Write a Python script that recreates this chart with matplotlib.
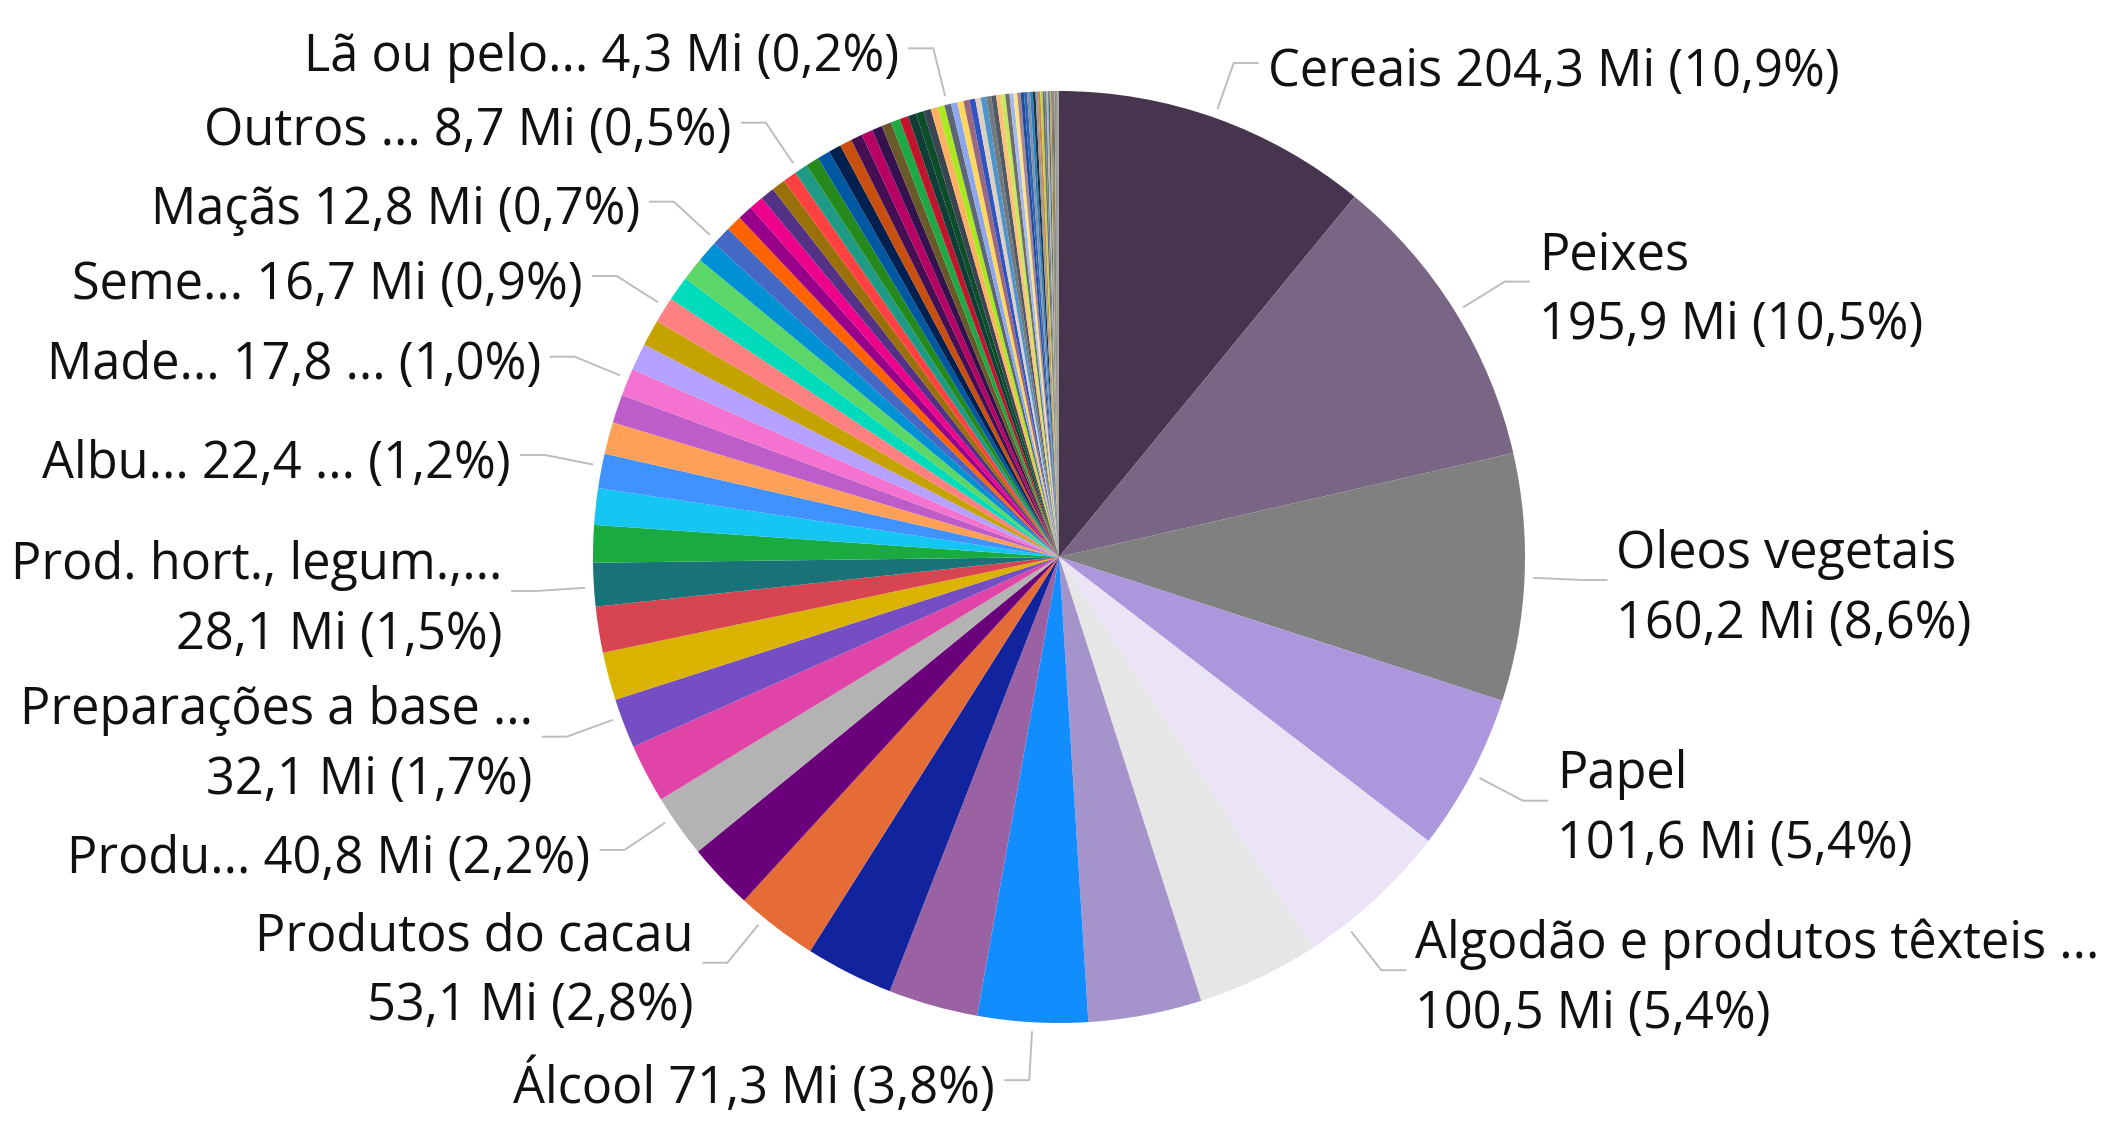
import numpy as np
import matplotlib
matplotlib.use("Agg")
import matplotlib.pyplot as plt

# ---------------- data (Mi), clockwise from 12 o'clock ----------------
values = [
    204.3, 195.9, 160.2, 101.6, 100.5, 79.5, 73.5, 71.3, 58.0, 57.0,
    53.1, 43.0, 40.8, 38.0, 32.1, 31.0, 29.8, 28.1, 24.2, 23.6,
    22.4, 20.6, 18.4, 17.8, 17.4, 17.1, 16.7, 16.0, 15.0, 14.0,
    12.8, 10.2, 9.6, 9.3, 9.1, 8.95, 8.8, 8.7, 8.5, 8.3,
    8.1, 7.8, 7.5, 7.3, 6.6, 6.3, 6.0, 5.7, 5.3, 5.0,
    4.8, 4.6, 4.45, 4.3, 4.15, 4.0, 3.9, 3.75, 3.6, 3.45,
    3.3,
    3.15, 3.0, 2.85, 2.7, 2.55, 2.4, 2.25, 2.1, 2.0, 1.9,
    1.8, 1.7, 1.6, 1.5, 1.4, 1.3, 1.2, 1.1, 1.0, 0.9,
    0.8, 0.7, 0.6, 0.5, 0.45, 0.4, 0.35, 0.3, 0.25, 0.2,
    0.16, 0.12, 0.09, 0.06, 0.04, 0.02, 0.01,
]

colors = [
    "#47354F", "#786684", "#808080", "#AD97DC", "#EAE4F6", "#E6E6E6", "#A593CC", "#118DFF", "#9B62A3", "#12239E",
    "#E66C37", "#6B007B", "#B3B3B3", "#E044A7", "#744EC2", "#D9B300", "#D64550", "#197278", "#1AAB40", "#15C6F4",
    "#4092FF", "#FFA058", "#BE5DC9", "#F472D0", "#B5A1FF", "#C4A200", "#FF8080", "#00DBBC", "#5BD667", "#0091D5",
    "#4668C5", "#FF6300", "#99008A", "#EC008C", "#533285", "#99700A", "#FF4141", "#1F9A85", "#25891C", "#0057A2",
    "#002050", "#C94F0F", "#450F54", "#B60064", "#34124F", "#6A5A29", "#1DAA46", "#C0152C", "#0F3E38", "#0C4E2A",
    "#3A4452", "#FFB163", "#A9EA1F", "#5D6677", "#8DA7EE", "#FFD95E", "#9A6880", "#2F55C4", "#DDCFC2", "#4B94CC",
    "#727A80",
    "#4E5A66", "#FFBE7A", "#C6E85A", "#6E6E6E", "#A3B9F2", "#FFE58A", "#A88494", "#1F4E9E", "#2E63B8", "#8391A3",
    "#2682C4", "#22303E", "#9A9A9A", "#D28442", "#B8D84A", "#7C6A5A", "#5A7AB0", "#C9B98E", "#3A6E8C", "#E0A060",
    "#6C8C3C", "#8C5A8C", "#40607A", "#D0C040", "#5A5A8A", "#A07050", "#3C8C6C", "#B08AC8", "#7A9A4A", "#C86464",
    "#4A7A9A", "#9A8A3A", "#6A4A7A", "#3A9A9A", "#C0A070", "#5A8AC0", "#8A3A5A",
]

# labelled slices: index into values, displayed (truncated) name, value text truncated?
label_idx = [0, 1, 2, 3, 4, 7, 10, 12, 14, 17, 20, 23, 26, 30, 37, 53]
label_names = [
    "Cereais", "Peixes", "Oleos vegetais", "Papel", "Algodão e produtos têxteis ...",
    "Álcool", "Produtos do cacau", "Produ...", "Preparações a base ...",
    "Prod. hort., legum.,...", "Albu...", "Made...", "Seme...", "Maçãs",
    "Outros ...", "Lã ou pelo...",
]
label_value_truncated = [False, False, False, False, False, False, False, False, False,
                         False, True, True, False, False, False, False]

# ---------------- layout ----------------
label_two_lines = [False, True, True, True, True, False, True, False, True,
                   True, False, False, False, False, False, False]
# vertical position (px from top) of each leader's horizontal part; None = follow slice angle
label_y = [63, 281.6, 580, 800.7, 970.2, None, 962.7, 850, 736.7,
           591, 455, 356.7, 276, 201.7, 122.7, 48.3]

W, H = 2114, 1132
CX, CY, R = 1059, H - 557, 466
R_START, R_BEND = R + 10, R + 58
H_LEN, GAP = 24, 10
FONT = ["Open Sans", "DejaVu Sans"]
FS = 36.4
EM_PX = FS * 100 / 72
CAP_HALF = 0.357 * EM_PX
LINE_HALF = 35
TEXT_OFF = 4.5

fig = plt.figure(figsize=(W / 100, H / 100), dpi=100)
ax = fig.add_axes([0, 0, 1, 1])
wedges, _ = ax.pie(values, colors=colors, startangle=90, counterclock=False,
                   radius=R, center=(CX, CY),
                   wedgeprops=dict(linewidth=0, antialiased=True))
ax.set_xlim(0, W)
ax.set_ylim(0, H)
ax.set_aspect("equal")
ax.axis("off")

total = float(np.sum(values))


def num(v):
    return f"{v:.1f}".replace(".", ",")


for k, i in enumerate(label_idx):
    v = values[i]
    pct = f"({num(100 * v / total)}%)"
    vtxt = f"{num(v)} ..." if label_value_truncated[k] else f"{num(v)} Mi"
    w = wedges[i]
    mid = np.deg2rad((w.theta1 + w.theta2) / 2)
    side = 1 if np.cos(mid) > 0 else -1
    if label_y[k] is None:
        bx = CX + R_BEND * np.cos(mid)
        by = CY + R_BEND * np.sin(mid)
    else:
        by = H - label_y[k]
        dy = by - CY
        bx = CX + side * np.sqrt(max(R_BEND ** 2 - dy ** 2, 0))
    ux, uy = (bx - CX) / R_BEND, (by - CY) / R_BEND
    sx, sy = CX + ux * R_START, CY + uy * R_START
    hx = bx + side * H_LEN
    ax.plot([sx, bx, hx], [sy, by, by], color="#BDBDBD", lw=1.4,
            solid_joinstyle="miter", zorder=3)
    tx = hx + side * GAP
    ha = "left" if side > 0 else "right"
    yc = H - by  # px from top
    if label_two_lines[k]:
        lines = [label_names[k], f"{vtxt} {pct}"]
        centers = [yc + TEXT_OFF - LINE_HALF, yc + TEXT_OFF + LINE_HALF]
    else:
        lines = [f"{label_names[k]} {vtxt} {pct}"]
        centers = [yc + TEXT_OFF]
    for txt, c in zip(lines, centers):
        ax.text(tx, H - (c + CAP_HALF), txt, ha=ha, va="baseline",
                fontsize=FS, family=FONT, color="#111111", zorder=4)

fig.savefig("out.png", dpi=100, facecolor="white")
